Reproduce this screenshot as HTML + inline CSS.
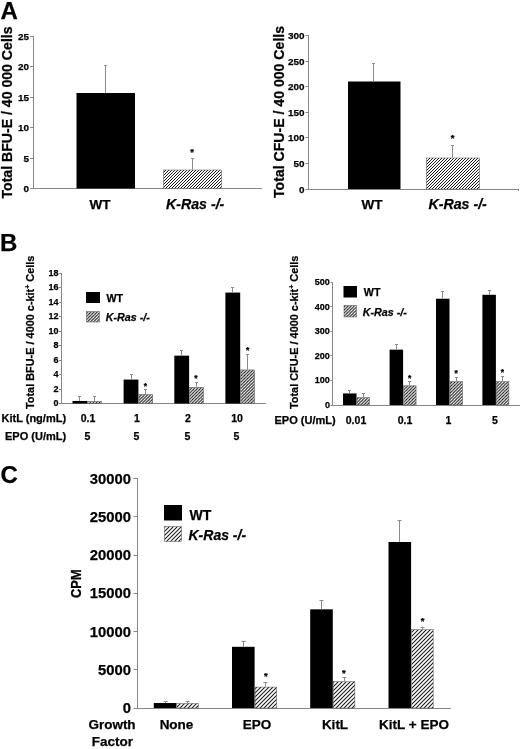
<!DOCTYPE html>
<html><head><meta charset="utf-8"><title>Figure</title>
<style>
html,body{margin:0;padding:0;background:#fff;}
svg{display:block;will-change:transform;}
text{font-family:"Liberation Sans",Arial,sans-serif;font-weight:bold;fill:#000;stroke:#000;stroke-width:0.25px;}
</style></head>
<body>
<svg width="520" height="749" viewBox="0 0 520 749">
<defs>
<filter id="bl" x="0" y="0" width="520" height="749" filterUnits="userSpaceOnUse"><feGaussianBlur stdDeviation="0.4"/></filter>
<pattern id="hA" patternUnits="userSpaceOnUse" width="3.0" height="3.0"><rect width="3.0" height="3.0" fill="#fff"/><path d="M-0.75,0.75 L0.75,-0.75 M-0.75,3.75 L3.75,-0.75 M2.25,3.75 L3.75,2.25" stroke="#1a1a1a" stroke-width="1.0" fill="none"/></pattern>
<pattern id="hB" patternUnits="userSpaceOnUse" width="3.1" height="3.1"><rect width="3.1" height="3.1" fill="#fff"/><path d="M-0.775,0.775 L0.775,-0.775 M-0.775,3.875 L3.875,-0.775 M2.325,3.875 L3.875,2.325" stroke="#1a1a1a" stroke-width="1.05" fill="none"/></pattern>
<pattern id="hC" patternUnits="userSpaceOnUse" width="4.0" height="4.0"><rect width="4.0" height="4.0" fill="#fff"/><path d="M-1.0,1.0 L1.0,-1.0 M-1.0,5.0 L5.0,-1.0 M3.0,5.0 L5.0,3.0" stroke="#1a1a1a" stroke-width="1.05" fill="none"/></pattern>
</defs>
<rect width="520" height="749" fill="#fff"/>
<g filter="url(#bl)">
<text x="0.5" y="19" text-anchor="start" style="font-size:24px;">A</text>
<text x="0" y="251" text-anchor="start" style="font-size:24px;">B</text>
<text x="0.5" y="483" text-anchor="start" style="font-size:24px;">C</text>
<line x1="33.5" y1="36" x2="33.5" y2="189.0" stroke="#878787" stroke-width="1"/>
<line x1="33" y1="188.5" x2="262" y2="188.5" stroke="#878787" stroke-width="1"/>
<line x1="30" y1="188.5" x2="33" y2="188.5" stroke="#878787" stroke-width="1"/>
<text x="29" y="192.0" text-anchor="end" style="font-size:9.9px;">0</text>
<line x1="30" y1="158.5" x2="33" y2="158.5" stroke="#878787" stroke-width="1"/>
<text x="29" y="161.5" text-anchor="end" style="font-size:9.9px;">5</text>
<line x1="30" y1="127.5" x2="33" y2="127.5" stroke="#878787" stroke-width="1"/>
<text x="29" y="131.0" text-anchor="end" style="font-size:9.9px;">10</text>
<line x1="30" y1="97.5" x2="33" y2="97.5" stroke="#878787" stroke-width="1"/>
<text x="29" y="100.5" text-anchor="end" style="font-size:9.9px;">15</text>
<line x1="30" y1="66.5" x2="33" y2="66.5" stroke="#878787" stroke-width="1"/>
<text x="29" y="70.0" text-anchor="end" style="font-size:9.9px;">20</text>
<line x1="30" y1="36.5" x2="33" y2="36.5" stroke="#878787" stroke-width="1"/>
<text x="29" y="39.5" text-anchor="end" style="font-size:9.9px;">25</text>
<text x="11.8" y="198.5" text-anchor="start" style="font-size:14.1px;" transform="rotate(-90 11.8 198.5)">Total BFU-E / 40 000 Cells</text>
<rect x="76.5" y="93" width="58.5" height="95.5" fill="#000"/>
<line x1="105.5" y1="65.5" x2="105.5" y2="93" stroke="#8a8a8a" stroke-width="1"/>
<line x1="104.0" y1="65.5" x2="107.0" y2="65.5" stroke="#8a8a8a" stroke-width="1"/>
<line x1="192.5" y1="158" x2="192.5" y2="169.5" stroke="#8a8a8a" stroke-width="1"/>
<line x1="191.0" y1="158.5" x2="194.0" y2="158.5" stroke="#8a8a8a" stroke-width="1"/>
<text x="192" y="155.22" text-anchor="middle" style="font-size:9.5px;" stroke="#000" stroke-width="0.35">*</text>
<text x="100" y="209" text-anchor="middle" style="font-size:13.5px;">WT</text>
<text x="195.2" y="209" text-anchor="middle" style="font-size:14.2px;font-style:italic;">K-Ras -/-</text>
<line x1="308.5" y1="35" x2="308.5" y2="189.5" stroke="#878787" stroke-width="1"/>
<line x1="308.5" y1="189.5" x2="518" y2="189.5" stroke="#878787" stroke-width="1"/>
<line x1="518.5" y1="189" x2="518.5" y2="191" stroke="#878787" stroke-width="1"/>
<line x1="305.5" y1="189.5" x2="308.5" y2="189.5" stroke="#878787" stroke-width="1"/>
<text x="304.5" y="192.5" text-anchor="end" style="font-size:9.9px;">0</text>
<line x1="305.5" y1="163.5" x2="308.5" y2="163.5" stroke="#878787" stroke-width="1"/>
<text x="304.5" y="166.9" text-anchor="end" style="font-size:9.9px;">50</text>
<line x1="305.5" y1="137.5" x2="308.5" y2="137.5" stroke="#878787" stroke-width="1"/>
<text x="304.5" y="141.3" text-anchor="end" style="font-size:9.9px;">100</text>
<line x1="305.5" y1="112.5" x2="308.5" y2="112.5" stroke="#878787" stroke-width="1"/>
<text x="304.5" y="115.7" text-anchor="end" style="font-size:9.9px;">150</text>
<line x1="305.5" y1="86.5" x2="308.5" y2="86.5" stroke="#878787" stroke-width="1"/>
<text x="304.5" y="90.1" text-anchor="end" style="font-size:9.9px;">200</text>
<line x1="305.5" y1="61.5" x2="308.5" y2="61.5" stroke="#878787" stroke-width="1"/>
<text x="304.5" y="64.5" text-anchor="end" style="font-size:9.9px;">250</text>
<line x1="305.5" y1="35.5" x2="308.5" y2="35.5" stroke="#878787" stroke-width="1"/>
<text x="304.5" y="38.900000000000006" text-anchor="end" style="font-size:9.9px;">300</text>
<text x="284.3" y="198" text-anchor="start" style="font-size:14.1px;" transform="rotate(-90 284.3 198)">Total CFU-E / 40 000 Cells</text>
<rect x="348" y="81.5" width="52.5" height="107.5" fill="#000"/>
<line x1="373.5" y1="63" x2="373.5" y2="81.5" stroke="#8a8a8a" stroke-width="1"/>
<line x1="372.0" y1="63.5" x2="375.0" y2="63.5" stroke="#8a8a8a" stroke-width="1"/>
<line x1="452.5" y1="145" x2="452.5" y2="157.5" stroke="#8a8a8a" stroke-width="1"/>
<line x1="451.0" y1="145.5" x2="454.0" y2="145.5" stroke="#8a8a8a" stroke-width="1"/>
<text x="452.7" y="141.22" text-anchor="middle" style="font-size:9.5px;" stroke="#000" stroke-width="0.35">*</text>
<text x="372" y="209" text-anchor="middle" style="font-size:13.5px;">WT</text>
<text x="457.7" y="209" text-anchor="middle" style="font-size:14.2px;font-style:italic;">K-Ras -/-</text>
<line x1="61.5" y1="273" x2="61.5" y2="404.0" stroke="#878787" stroke-width="1"/>
<line x1="61" y1="403.5" x2="266" y2="403.5" stroke="#878787" stroke-width="1"/>
<line x1="59" y1="403.5" x2="61" y2="403.5" stroke="#878787" stroke-width="1"/>
<text x="58.4" y="406.4" text-anchor="end" style="font-size:9px;">0</text>
<line x1="59" y1="389.5" x2="61" y2="389.5" stroke="#878787" stroke-width="1"/>
<text x="58.4" y="391.9" text-anchor="end" style="font-size:9px;">2</text>
<line x1="59" y1="374.5" x2="61" y2="374.5" stroke="#878787" stroke-width="1"/>
<text x="58.4" y="377.4" text-anchor="end" style="font-size:9px;">4</text>
<line x1="59" y1="360.5" x2="61" y2="360.5" stroke="#878787" stroke-width="1"/>
<text x="58.4" y="362.9" text-anchor="end" style="font-size:9px;">6</text>
<line x1="59" y1="345.5" x2="61" y2="345.5" stroke="#878787" stroke-width="1"/>
<text x="58.4" y="348.4" text-anchor="end" style="font-size:9px;">8</text>
<line x1="59" y1="331.5" x2="61" y2="331.5" stroke="#878787" stroke-width="1"/>
<text x="58.4" y="333.9" text-anchor="end" style="font-size:9px;">10</text>
<line x1="59" y1="316.5" x2="61" y2="316.5" stroke="#878787" stroke-width="1"/>
<text x="58.4" y="319.4" text-anchor="end" style="font-size:9px;">12</text>
<line x1="59" y1="302.5" x2="61" y2="302.5" stroke="#878787" stroke-width="1"/>
<text x="58.4" y="304.9" text-anchor="end" style="font-size:9px;">14</text>
<line x1="59" y1="287.5" x2="61" y2="287.5" stroke="#878787" stroke-width="1"/>
<text x="58.4" y="290.4" text-anchor="end" style="font-size:9px;">16</text>
<line x1="59" y1="273.5" x2="61" y2="273.5" stroke="#878787" stroke-width="1"/>
<text x="58.4" y="275.9" text-anchor="end" style="font-size:9px;">18</text>
<text x="34" y="409" text-anchor="start" style="font-size:10.9px;" transform="rotate(-90 34 409)">Total BFU-E / 4000 c-kit<tspan dy="-4" style="font-size:7px">+</tspan><tspan dy="4"> Cells</tspan></text>
<rect x="72.5" y="400.9625" width="14.799999999999997" height="2.5375000000000227" fill="#000"/>
<line x1="79.5" y1="396.975" x2="79.5" y2="400.9625" stroke="#8a8a8a" stroke-width="1"/>
<line x1="78.0" y1="396.5" x2="81.0" y2="396.5" stroke="#8a8a8a" stroke-width="1"/>
<line x1="94.5" y1="396.975" x2="94.5" y2="400.9625" stroke="#8a8a8a" stroke-width="1"/>
<line x1="93.0" y1="396.5" x2="96.0" y2="396.5" stroke="#8a8a8a" stroke-width="1"/>
<rect x="123.6" y="379.575" width="14.800000000000011" height="23.92500000000001" fill="#000"/>
<line x1="131.5" y1="374.5" x2="131.5" y2="379.575" stroke="#8a8a8a" stroke-width="1"/>
<line x1="130.0" y1="374.5" x2="133.0" y2="374.5" stroke="#8a8a8a" stroke-width="1"/>
<line x1="145.5" y1="389.3625" x2="145.5" y2="394.075" stroke="#8a8a8a" stroke-width="1"/>
<line x1="144.0" y1="389.5" x2="147.0" y2="389.5" stroke="#8a8a8a" stroke-width="1"/>
<rect x="174.3" y="355.65" width="14.800000000000011" height="47.85000000000002" fill="#000"/>
<line x1="181.5" y1="350.9375" x2="181.5" y2="355.65" stroke="#8a8a8a" stroke-width="1"/>
<line x1="180.0" y1="350.5" x2="183.0" y2="350.5" stroke="#8a8a8a" stroke-width="1"/>
<line x1="196.5" y1="382.475" x2="196.5" y2="386.825" stroke="#8a8a8a" stroke-width="1"/>
<line x1="195.0" y1="382.5" x2="198.0" y2="382.5" stroke="#8a8a8a" stroke-width="1"/>
<rect x="225.4" y="292.575" width="14.800000000000011" height="110.92500000000001" fill="#000"/>
<line x1="232.5" y1="287.5" x2="232.5" y2="292.575" stroke="#8a8a8a" stroke-width="1"/>
<line x1="231.0" y1="287.5" x2="234.0" y2="287.5" stroke="#8a8a8a" stroke-width="1"/>
<line x1="247.5" y1="354.5625" x2="247.5" y2="369.425" stroke="#8a8a8a" stroke-width="1"/>
<line x1="246.0" y1="354.5" x2="249.0" y2="354.5" stroke="#8a8a8a" stroke-width="1"/>
<text x="145.5" y="388.68" text-anchor="middle" style="font-size:8.5px;" stroke="#000" stroke-width="0.35">*</text>
<text x="196" y="380.68" text-anchor="middle" style="font-size:8.5px;" stroke="#000" stroke-width="0.35">*</text>
<text x="247.6" y="353.38" text-anchor="middle" style="font-size:8.5px;" stroke="#000" stroke-width="0.35">*</text>
<rect x="86" y="292" width="14" height="11" fill="#000"/>
<text x="106.5" y="302.3" text-anchor="start" style="font-size:10.7px;">WT</text>
<text x="105.8" y="321.3" text-anchor="start" style="font-size:10.7px;font-style:italic;">K-Ras -/-</text>
<text x="1.5" y="422.4" text-anchor="start" style="font-size:11px;">KitL (ng/mL)</text>
<text x="5" y="440" text-anchor="start" style="font-size:11px;">EPO (U/mL)</text>
<text x="88" y="422.4" text-anchor="middle" style="font-size:10.5px;">0.1</text>
<text x="87.5" y="440" text-anchor="middle" style="font-size:10.5px;">5</text>
<text x="137" y="422.4" text-anchor="middle" style="font-size:10.5px;">1</text>
<text x="136.5" y="440" text-anchor="middle" style="font-size:10.5px;">5</text>
<text x="188" y="422.4" text-anchor="middle" style="font-size:10.5px;">2</text>
<text x="187.5" y="440" text-anchor="middle" style="font-size:10.5px;">5</text>
<text x="237" y="422.4" text-anchor="middle" style="font-size:10.5px;">10</text>
<text x="236.5" y="440" text-anchor="middle" style="font-size:10.5px;">5</text>
<line x1="332.5" y1="282" x2="332.5" y2="405.5" stroke="#878787" stroke-width="1"/>
<line x1="332.5" y1="405.5" x2="520" y2="405.5" stroke="#878787" stroke-width="1"/>
<line x1="330.5" y1="405.5" x2="332.5" y2="405.5" stroke="#878787" stroke-width="1"/>
<text x="329.9" y="407.9" text-anchor="end" style="font-size:9px;">0</text>
<line x1="330.5" y1="380.5" x2="332.5" y2="380.5" stroke="#878787" stroke-width="1"/>
<text x="329.9" y="383.29999999999995" text-anchor="end" style="font-size:9px;">100</text>
<line x1="330.5" y1="355.5" x2="332.5" y2="355.5" stroke="#878787" stroke-width="1"/>
<text x="329.9" y="358.7" text-anchor="end" style="font-size:9px;">200</text>
<line x1="330.5" y1="331.5" x2="332.5" y2="331.5" stroke="#878787" stroke-width="1"/>
<text x="329.9" y="334.09999999999997" text-anchor="end" style="font-size:9px;">300</text>
<line x1="330.5" y1="306.5" x2="332.5" y2="306.5" stroke="#878787" stroke-width="1"/>
<text x="329.9" y="309.5" text-anchor="end" style="font-size:9px;">400</text>
<line x1="330.5" y1="282.5" x2="332.5" y2="282.5" stroke="#878787" stroke-width="1"/>
<text x="329.9" y="284.9" text-anchor="end" style="font-size:9px;">500</text>
<text x="298" y="409" text-anchor="start" style="font-size:10.9px;" transform="rotate(-90 298 409)">Total CFU-E / 4000 c-kit<tspan dy="-4" style="font-size:7px">+</tspan><tspan dy="4"> Cells</tspan></text>
<rect x="343" y="393.438" width="13.5" height="11.562000000000012" fill="#000"/>
<line x1="349.5" y1="390.486" x2="349.5" y2="393.438" stroke="#8a8a8a" stroke-width="1"/>
<line x1="348.0" y1="390.5" x2="351.0" y2="390.5" stroke="#8a8a8a" stroke-width="1"/>
<line x1="363.5" y1="393.684" x2="363.5" y2="397.128" stroke="#8a8a8a" stroke-width="1"/>
<line x1="362.0" y1="393.5" x2="365.0" y2="393.5" stroke="#8a8a8a" stroke-width="1"/>
<rect x="389.6" y="349.65" width="13.5" height="55.35000000000002" fill="#000"/>
<line x1="396.5" y1="344.976" x2="396.5" y2="349.65" stroke="#8a8a8a" stroke-width="1"/>
<line x1="395.0" y1="344.5" x2="398.0" y2="344.5" stroke="#8a8a8a" stroke-width="1"/>
<line x1="409.5" y1="381.63" x2="409.5" y2="385.32" stroke="#8a8a8a" stroke-width="1"/>
<line x1="408.0" y1="381.5" x2="411.0" y2="381.5" stroke="#8a8a8a" stroke-width="1"/>
<rect x="436" y="298.728" width="13.5" height="106.27199999999999" fill="#000"/>
<line x1="442.5" y1="291.84000000000003" x2="442.5" y2="298.728" stroke="#8a8a8a" stroke-width="1"/>
<line x1="441.0" y1="291.5" x2="444.0" y2="291.5" stroke="#8a8a8a" stroke-width="1"/>
<line x1="456.5" y1="377.694" x2="456.5" y2="381.138" stroke="#8a8a8a" stroke-width="1"/>
<line x1="455.0" y1="377.5" x2="458.0" y2="377.5" stroke="#8a8a8a" stroke-width="1"/>
<rect x="482.4" y="294.79200000000003" width="13.5" height="110.20799999999997" fill="#000"/>
<line x1="489.5" y1="290.61" x2="489.5" y2="294.79200000000003" stroke="#8a8a8a" stroke-width="1"/>
<line x1="488.0" y1="290.5" x2="491.0" y2="290.5" stroke="#8a8a8a" stroke-width="1"/>
<line x1="502.5" y1="376.956" x2="502.5" y2="381.138" stroke="#8a8a8a" stroke-width="1"/>
<line x1="501.0" y1="376.5" x2="504.0" y2="376.5" stroke="#8a8a8a" stroke-width="1"/>
<text x="409.6" y="380.98" text-anchor="middle" style="font-size:8.5px;" stroke="#000" stroke-width="0.35">*</text>
<text x="456.2" y="375.68" text-anchor="middle" style="font-size:8.5px;" stroke="#000" stroke-width="0.35">*</text>
<text x="502.5" y="375.07" text-anchor="middle" style="font-size:8.5px;" stroke="#000" stroke-width="0.35">*</text>
<rect x="343.5" y="286" width="13.5" height="11.5" fill="#000"/>
<text x="363.8" y="296.3" text-anchor="start" style="font-size:10.7px;">WT</text>
<text x="362.8" y="315.8" text-anchor="start" style="font-size:10.7px;font-style:italic;">K-Ras -/-</text>
<text x="274.5" y="424.1" text-anchor="start" style="font-size:11px;">EPO (U/mL)</text>
<text x="356" y="424" text-anchor="middle" style="font-size:10.5px;">0.01</text>
<text x="405" y="424" text-anchor="middle" style="font-size:10.5px;">0.1</text>
<text x="448.5" y="424" text-anchor="middle" style="font-size:10.5px;">1</text>
<text x="495" y="424" text-anchor="middle" style="font-size:10.5px;">5</text>
<line x1="137.5" y1="478" x2="137.5" y2="708.5" stroke="#878787" stroke-width="1"/>
<line x1="137.5" y1="708.5" x2="451" y2="708.5" stroke="#878787" stroke-width="1"/>
<line x1="133.5" y1="708.5" x2="137.5" y2="708.5" stroke="#878787" stroke-width="1"/>
<text x="131.0" y="713.0" text-anchor="end" style="font-size:14.8px;">0</text>
<line x1="133.5" y1="669.5" x2="137.5" y2="669.5" stroke="#878787" stroke-width="1"/>
<text x="131.0" y="674.75" text-anchor="end" style="font-size:14.8px;">5000</text>
<line x1="133.5" y1="631.5" x2="137.5" y2="631.5" stroke="#878787" stroke-width="1"/>
<text x="131.0" y="636.5" text-anchor="end" style="font-size:14.8px;">10000</text>
<line x1="133.5" y1="593.5" x2="137.5" y2="593.5" stroke="#878787" stroke-width="1"/>
<text x="131.0" y="598.25" text-anchor="end" style="font-size:14.8px;">15000</text>
<line x1="133.5" y1="555.5" x2="137.5" y2="555.5" stroke="#878787" stroke-width="1"/>
<text x="131.0" y="560.0" text-anchor="end" style="font-size:14.8px;">20000</text>
<line x1="133.5" y1="516.5" x2="137.5" y2="516.5" stroke="#878787" stroke-width="1"/>
<text x="131.0" y="521.75" text-anchor="end" style="font-size:14.8px;">25000</text>
<line x1="133.5" y1="478.5" x2="137.5" y2="478.5" stroke="#878787" stroke-width="1"/>
<text x="131.0" y="483.5" text-anchor="end" style="font-size:14.8px;">30000</text>
<text x="81" y="598" text-anchor="start" style="font-size:14.2px;" transform="rotate(-90 81 598)" textLength="28.6" lengthAdjust="spacingAndGlyphs">CPM</text>
<rect x="153.8" y="703.0275" width="22.599999999999994" height="4.972499999999968" fill="#000"/>
<line x1="165.5" y1="701.4975" x2="165.5" y2="703.0275" stroke="#8a8a8a" stroke-width="1"/>
<line x1="163.5" y1="701.5" x2="167.5" y2="701.5" stroke="#8a8a8a" stroke-width="1"/>
<line x1="187.5" y1="701.115" x2="187.5" y2="703.0275" stroke="#8a8a8a" stroke-width="1"/>
<line x1="185.5" y1="701.5" x2="189.5" y2="701.5" stroke="#8a8a8a" stroke-width="1"/>
<rect x="232" y="646.8" width="22.599999999999994" height="61.200000000000045" fill="#000"/>
<line x1="243.5" y1="641.8275" x2="243.5" y2="646.8" stroke="#8a8a8a" stroke-width="1"/>
<line x1="241.5" y1="641.5" x2="245.5" y2="641.5" stroke="#8a8a8a" stroke-width="1"/>
<line x1="265.5" y1="682.755" x2="265.5" y2="686.58" stroke="#8a8a8a" stroke-width="1"/>
<line x1="263.5" y1="682.5" x2="267.5" y2="682.5" stroke="#8a8a8a" stroke-width="1"/>
<rect x="310.2" y="609.315" width="22.600000000000023" height="98.68499999999995" fill="#000"/>
<line x1="321.5" y1="600.5175" x2="321.5" y2="609.315" stroke="#8a8a8a" stroke-width="1"/>
<line x1="319.5" y1="600.5" x2="323.5" y2="600.5" stroke="#8a8a8a" stroke-width="1"/>
<line x1="344.5" y1="677.4" x2="344.5" y2="681.225" stroke="#8a8a8a" stroke-width="1"/>
<line x1="342.5" y1="677.5" x2="346.5" y2="677.5" stroke="#8a8a8a" stroke-width="1"/>
<rect x="388.5" y="541.995" width="22.600000000000023" height="166.005" fill="#000"/>
<line x1="399.5" y1="520.575" x2="399.5" y2="541.995" stroke="#8a8a8a" stroke-width="1"/>
<line x1="397.5" y1="520.5" x2="401.5" y2="520.5" stroke="#8a8a8a" stroke-width="1"/>
<line x1="422.5" y1="627.2925" x2="422.5" y2="629.205" stroke="#8a8a8a" stroke-width="1"/>
<line x1="420.5" y1="627.5" x2="424.5" y2="627.5" stroke="#8a8a8a" stroke-width="1"/>
<text x="265.8" y="679.02" text-anchor="middle" style="font-size:9.5px;" stroke="#000" stroke-width="0.35">*</text>
<text x="343.8" y="675.62" text-anchor="middle" style="font-size:9.5px;" stroke="#000" stroke-width="0.35">*</text>
<text x="422.7" y="624.43" text-anchor="middle" style="font-size:9.5px;" stroke="#000" stroke-width="0.35">*</text>
<rect x="164" y="505" width="18" height="15.5" fill="#000"/>
<text x="189.5" y="519.5" text-anchor="start" style="font-size:14px;">WT</text>
<text x="188.5" y="540" text-anchor="start" style="font-size:14px;font-style:italic;">K-Ras -/-</text>
<text x="112" y="729" text-anchor="middle" style="font-size:13.5px;">Growth</text>
<text x="112.5" y="745.5" text-anchor="middle" style="font-size:13.5px;">Factor</text>
<text x="176.5" y="729" text-anchor="middle" style="font-size:13.5px;">None</text>
<text x="257" y="729" text-anchor="middle" style="font-size:13.5px;">EPO</text>
<text x="335" y="729" text-anchor="middle" style="font-size:13.5px;">KitL</text>
<text x="414" y="729" text-anchor="middle" style="font-size:13.5px;">KitL + EPO</text>
</g>
<rect x="163.50" y="170.00" width="58.00" height="18.50" fill="url(#hA)" stroke="#555" stroke-width="0.5"/>
<rect x="426.50" y="158.00" width="53.00" height="31.00" fill="url(#hA)" stroke="#555" stroke-width="0.5"/>
<rect x="87.80" y="401.46" width="13.80" height="2.04" fill="url(#hB)" stroke="#555" stroke-width="0.5"/>
<rect x="138.90" y="394.57" width="13.80" height="8.93" fill="url(#hB)" stroke="#555" stroke-width="0.5"/>
<rect x="189.60" y="387.32" width="13.80" height="16.18" fill="url(#hB)" stroke="#555" stroke-width="0.5"/>
<rect x="240.70" y="369.93" width="13.80" height="33.57" fill="url(#hB)" stroke="#555" stroke-width="0.5"/>
<rect x="86.50" y="311.50" width="13.00" height="10.50" fill="url(#hB)" stroke="#555" stroke-width="0.5"/>
<rect x="357.00" y="397.63" width="12.50" height="7.37" fill="url(#hB)" stroke="#555" stroke-width="0.5"/>
<rect x="403.60" y="385.82" width="12.50" height="19.18" fill="url(#hB)" stroke="#555" stroke-width="0.5"/>
<rect x="450.00" y="381.64" width="12.50" height="23.36" fill="url(#hB)" stroke="#555" stroke-width="0.5"/>
<rect x="496.40" y="381.64" width="12.50" height="23.36" fill="url(#hB)" stroke="#555" stroke-width="0.5"/>
<rect x="344.00" y="305.50" width="12.50" height="11.50" fill="url(#hB)" stroke="#555" stroke-width="0.5"/>
<rect x="176.90" y="703.53" width="21.60" height="4.47" fill="url(#hC)" stroke="#555" stroke-width="0.5"/>
<rect x="255.10" y="687.08" width="21.60" height="20.92" fill="url(#hC)" stroke="#555" stroke-width="0.5"/>
<rect x="333.30" y="681.73" width="21.60" height="26.27" fill="url(#hC)" stroke="#555" stroke-width="0.5"/>
<rect x="411.60" y="629.71" width="21.60" height="78.29" fill="url(#hC)" stroke="#555" stroke-width="0.5"/>
<rect x="164.50" y="526.50" width="17.00" height="15.00" fill="url(#hC)" stroke="#555" stroke-width="0.5"/>
</svg>
</body></html>
